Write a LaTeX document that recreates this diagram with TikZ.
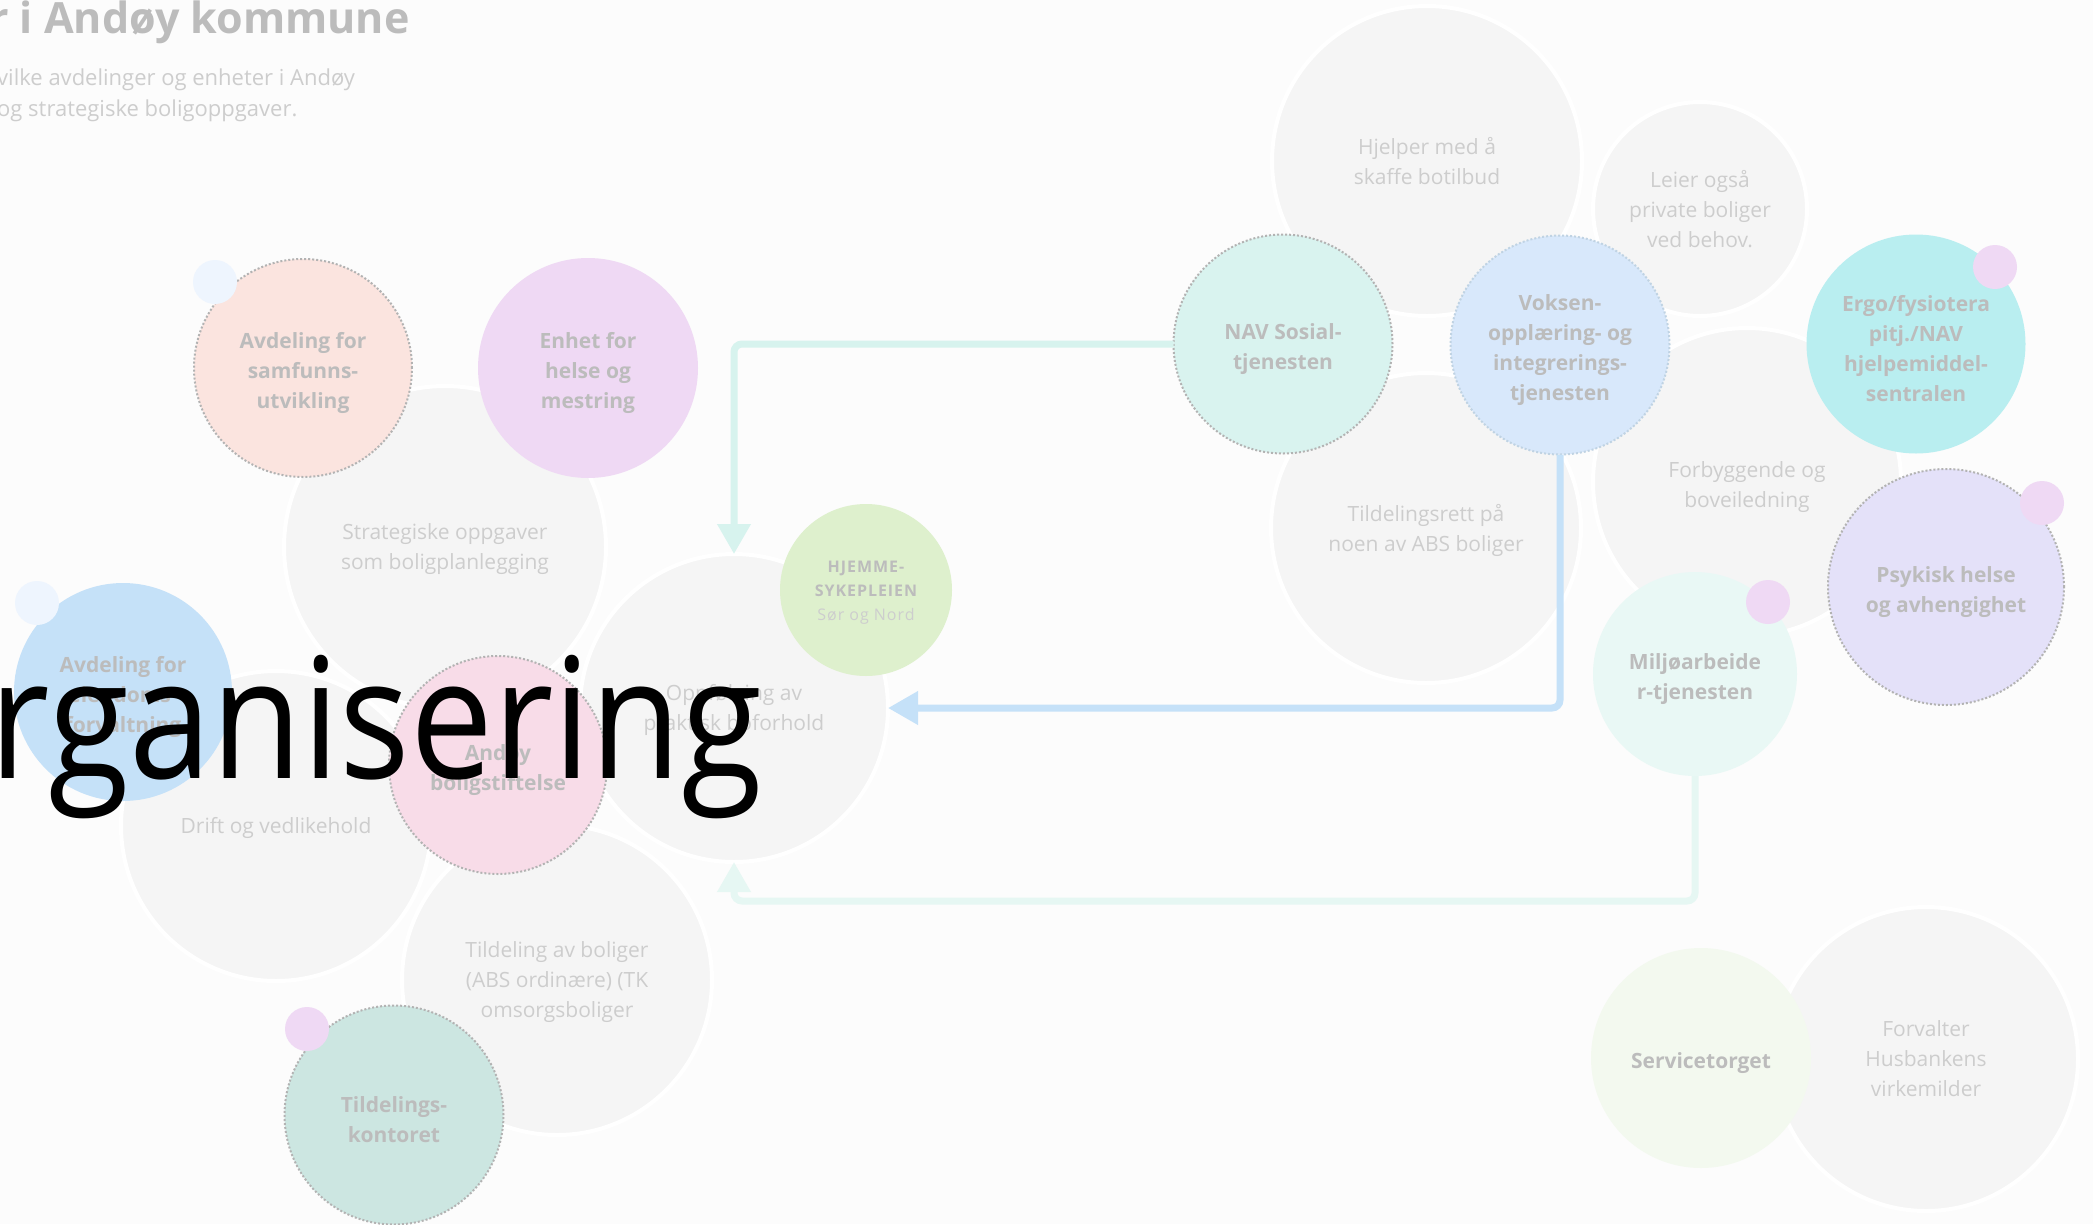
\documentclass[tikz,border=0pt]{standalone}
\usepackage{fontspec}
\setmainfont{Open Sans}
\newfontfamily\spacedfont[LetterSpace=6]{Open Sans}
\usetikzlibrary{arrows.meta}
\definecolor{bgc}{HTML}{FCFCFC}
\definecolor{grayc}{HTML}{F5F5F5}
\definecolor{gtext}{HTML}{CDCDCD}
\definecolor{ltext}{HTML}{BCBCBC}
\definecolor{dotc}{HTML}{B3B3B3}
\definecolor{samfc}{HTML}{FBE4DF}
\definecolor{lbluec}{HTML}{EEF5FE}
\definecolor{helsec}{HTML}{EFD9F4}
\definecolor{eiendc}{HTML}{C5E1F8}
\definecolor{boligc}{HTML}{F8DCE8}
\definecolor{hjemc}{HTML}{DEF0CD}
\definecolor{tkontc}{HTML}{CCE6E1}
\definecolor{navc}{HTML}{D9F3EF}
\definecolor{vokc}{HTML}{D8E8FB}
\definecolor{ergoc}{HTML}{B9EEF0}
\definecolor{psykc}{HTML}{E4E1F9}
\definecolor{miljc}{HTML}{E9F8F5}
\definecolor{servc}{HTML}{F3F9EF}
\definecolor{navline}{HTML}{D7F3EE}
\definecolor{vokline}{HTML}{C5E1F8}
\definecolor{miljline}{HTML}{E6F7F3}
\begin{document}
\begin{tikzpicture}[x=1pt,y=-1pt,
  bub/.style={circle, inner sep=0pt, outer sep=0pt, minimum size=#1},
  graybub/.style={bub=#1, fill=grayc, draw=white, line width=4pt},
  colbub/.style={bub=#1},
  gtxt/.style={align=center, inner sep=0pt, text=gtext, yshift=-2pt,
     font={\fontsize{21}{30}\selectfont}},
  btxt/.style={align=center, inner sep=0pt, text=ltext, yshift=-5pt,
     font={\fontsize{21}{30}\selectfont\bfseries}},
  dotborder/.style={draw=dotc, line width=2pt, dash pattern=on 2pt off 2pt},
  dotbub/.style={bub=44, fill=#1},
  conn/.style={line width=7pt, rounded corners=8pt, -{Triangle[length=30pt,width=32pt]}}
]
\fill[bgc] (0,0) rectangle (2093,1224);
\useasboundingbox (0,0) rectangle (2093,1224);

% title
\node[anchor=base west, inner sep=0pt, text=ltext, font={\fontsize{43}{50}\selectfont\bfseries}] (title) at (-11,33) {r i Andøy kommune};
\node[anchor=base west, inner sep=0pt, text=gtext, font={\fontsize{22}{31}\selectfont}] (sub1) at (-3,85) {vilke avdelinger og enheter i Andøy};
\node[anchor=base west, inner sep=0pt, text=gtext, font={\fontsize{22}{31}\selectfont}] (sub2) at (-3,116) {og strategiske boligoppgaver.};

% gray bubbles
\node[graybub=322, label={[gtxt]center:{Strategiske oppgaver\\som boligplanlegging}}] (strat) at (445,547) {};
\node[graybub=310, label={[gtxt]center:{Drift og vedlikehold}}] (drift) at (276,826) {};
\node[graybub=310, label={[gtxt]center:{Tildeling av boliger\\(ABS ordinære) (TK\\omsorgsboliger}}] (tild) at (557,980) {};
\node[graybub=308, label={[gtxt]center:{Oppfølging av\\praktisk boforhold}}] (opp) at (734,708) {};
\node[graybub=310, label={[gtxt, yshift=2pt]center:{Hjelper med å\\skaffe botilbud}}] (hjelp) at (1427,161) {};
\node[graybub=214, label={[gtxt, yshift=2pt]center:{Leier også\\private boliger\\ved behov.}}] (leier) at (1700,209) {};
\node[graybub=310, label={[gtxt]center:{Tildelingsrett på\\noen av ABS boliger}}] (trett) at (1426,528) {};
\node[graybub=308, label={[gtxt, yshift=-3pt]center:{Forbyggende og\\boveiledning}}] (forb) at (1747,482) {};
\node[graybub=304, label={[gtxt, yshift=2pt]center:{Forvalter\\Husbankens\\virkemilder}}] (forv) at (1926,1059) {};

% coloured bubbles
\node[colbub=218, fill=samfc, dotborder, label={[btxt]center:{Avdeling for\\samfunns-\\utvikling}}] (samf) at (303,368) {};
\node[dotbub=lbluec] (samfdot) at (215,282) {};
\node[colbub=220, fill=helsec, label={[btxt]center:{Enhet for\\helse og\\mestring}}] (helse) at (588,368) {};
\node[colbub=218, fill=eiendc, label={[btxt]center:{Avdeling for\\eiendoms-\\forvaltning}}] (eiend) at (123,692) {};
\node[dotbub=lbluec] (eienddot) at (37,603) {};
\node[colbub=218, fill=boligc, dotborder, label={[btxt]center:{Andøy\\boligstiftelse}}] (bolig) at (498,765) {};
\node[colbub=172, fill=hjemc, label={[align=center, inner sep=0pt, text=ltext, yshift=-3pt, font={\spacedfont\fontsize{16}{24}\selectfont}]center:{\bfseries HJEMME-\\\bfseries SYKEPLEIEN\\\color{gtext}Sør og Nord}}] (hjem) at (866,590) {};
\node[colbub=219, fill=tkontc, dotborder, label={[btxt]center:{Tildelings-\\kontoret}}] (tkont) at (394,1115) {};
\node[dotbub=helsec] (tkontdot) at (307,1029) {};
\node[colbub=219, fill=navc, dotborder, label={[btxt]center:{NAV Sosial-\\tjenesten}}] (nav) at (1283,344) {};
\node[colbub=219, fill=vokc, dotborder, draw=vokline!70!dotc, label={[btxt]center:{Voksen-\\opplæring- og\\integrerings-\\tjenesten}}] (vok) at (1560,345) {};
\node[colbub=219, fill=ergoc, label={[btxt]center:{Ergo/fysiotera\\pitj./NAV\\hjelpemiddel-\\sentralen}}] (ergo) at (1916,344) {};
\node[dotbub=helsec] (ergodot) at (1995,267) {};
\node[colbub=236, fill=psykc, dotborder, label={[btxt]center:{Psykisk helse\\og avhengighet}}] (psyk) at (1946,587) {};
\node[dotbub=helsec] (psykdot) at (2042,503) {};
\node[colbub=204, fill=miljc, label={[btxt]center:{Miljøarbeide\\r-tjenesten}}] (milj) at (1695,674) {};
\node[dotbub=helsec] (miljdot) at (1768,602) {};
\node[colbub=220, fill=servc, label={[btxt]center:{Servicetorget}}] (serv) at (1701,1058) {};

% connectors
\coordinate (mcorner) at (1695,901);
\draw[conn, navline] (nav.west) -| (opp.north);
\draw[conn, vokline] (vok.south) |- (opp.east);
\draw[conn, miljline] (milj.south) -- (mcorner) -| (opp.south);

% big overlay text
\node[anchor=base west, inner sep=0pt, text=black, font={\fontsize{168}{200}\selectfont}] (big) at (-11,778) {\scalebox{0.88}[1]{rganisering}};
\end{tikzpicture}
\end{document}
